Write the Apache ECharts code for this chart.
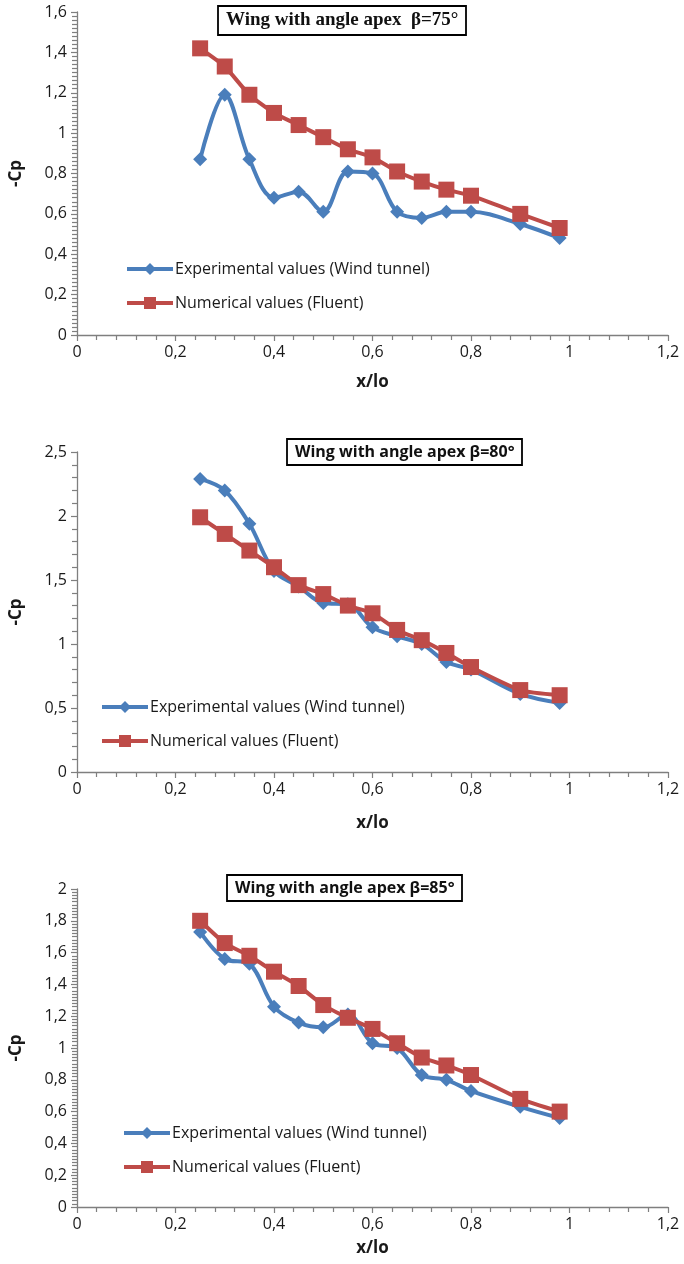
<!DOCTYPE html>
<html>
<head>
<meta charset="utf-8">
<script src="https://cdn.jsdelivr.net/npm/echarts@6/dist/echarts.min.js"></script>
<style>
html,body{margin:0;padding:0;background:#fff;}
#c{width:684px;height:1264px;}
</style>
</head>
<body>
<div id="c"></div>
<script>
// x positions (x/lo)
const xPos = [0.25, 0.3, 0.35, 0.4, 0.45, 0.5, 0.55, 0.6, 0.65, 0.7, 0.75, 0.8, 0.9, 0.98];

// Chart 1: beta = 75°
const exp75 = [0.87, 1.19, 0.87, 0.68, 0.71, 0.61, 0.81, 0.80, 0.61, 0.58, 0.61, 0.61, 0.55, 0.48];
const num75 = [1.42, 1.33, 1.19, 1.10, 1.04, 0.98, 0.92, 0.88, 0.81, 0.76, 0.72, 0.69, 0.60, 0.53];
// Chart 2: beta = 80°
const exp80 = [2.29, 2.20, 1.94, 1.57, 1.45, 1.32, 1.31, 1.13, 1.06, 1.00, 0.86, 0.80, 0.61, 0.54];
const num80 = [1.99, 1.86, 1.73, 1.60, 1.46, 1.39, 1.30, 1.24, 1.11, 1.03, 0.93, 0.82, 0.64, 0.60];
// Chart 3: beta = 85°
const exp85 = [1.73, 1.56, 1.53, 1.26, 1.16, 1.13, 1.21, 1.03, 1.00, 0.83, 0.80, 0.73, 0.63, 0.56];
const num85 = [1.80, 1.66, 1.58, 1.48, 1.39, 1.27, 1.19, 1.12, 1.03, 0.94, 0.89, 0.83, 0.68, 0.60];

const titles = ['Wing with angle apex  \u03B2=75\u00B0', 'Wing with angle apex \u03B2=80\u00B0', 'Wing with angle apex \u03B2=85\u00B0'];
const legendNames = ['Experimental values (Wind tunnel)', 'Numerical values (Fluent)'];
const xTicks = {min: 0, max: 1.2, interval: 0.2};
const yTicks = [{min: 0, max: 1.6, interval: 0.2, minor: 10},
                {min: 0, max: 2.5, interval: 0.5, minor: 5},
                {min: 0, max: 2, interval: 0.2, minor: 10}];
const xName = 'x/lo';
const yName = '-Cp';

const BLUE = '#4a7ebb', RED = '#be4b48';
const FONT = '"Open Sans", "Liberation Sans", sans-serif';
const fmt = v => String(+(+v).toFixed(2)).replace('.', ',');

const grids = [
  {left: 76, right: 16, top: 12, height: 323},
  {left: 76, right: 16, top: 452, height: 320},
  {left: 76, right: 16, top: 889, height: 318}
];
const xNameGap = [39, 43, 33];
const titlePos = [
  {left: 218, top: 6, font: '"Liberation Serif", "DejaVu Serif", serif', size: 19},
  {left: 287, top: 439, font: FONT, size: 16},
  {left: 227, top: 875, font: FONT, size: 16}
];
const legendTop = [256, 694, 1120];
const legendLeft = [120, 95, 117];

const pairs = (ys) => xPos.map((x, i) => [x, ys[i]]);
const expSets = [exp75, exp80, exp85];
const numSets = [num75, num80, num85];

const option = {
  animation: false,
  backgroundColor: '#fff',
  grid: grids,
  title: titlePos.map((t, i) => ({
    text: titles[i], left: t.left, top: t.top,
    borderColor: '#000', borderWidth: 1.8, padding: [5, 8, 5, 8],
    textStyle: {fontFamily: t.font, fontSize: t.size, fontWeight: 'bold', color: '#111'}
  })),
  legend: [0, 1, 2].map(i => ({
    orient: 'vertical', left: legendLeft[i], top: legendTop[i],
    itemWidth: 46, itemHeight: 15, itemGap: 18,
    lineStyle: {width: 4},
    data: [legendNames[0] + '#' + i, legendNames[1] + '#' + i],
    formatter: n => n.split('#')[0],
    textStyle: {fontFamily: FONT, fontSize: 16, color: '#1a1a1a', padding: [0, 0, 0, -3]}
  })),
  xAxis: [0, 1, 2].map(i => ({
    type: 'value', gridIndex: i, min: xTicks.min, max: xTicks.max, interval: xTicks.interval,
    name: xName, nameLocation: 'middle', nameGap: xNameGap[i],
    nameTextStyle: {fontFamily: FONT, fontSize: 17, fontWeight: 'bold', color: '#1a1a1a'},
    axisLine: {lineStyle: {color: '#7f7f7f', width: 1.3}},
    axisTick: {show: true, length: 6, lineStyle: {color: '#7f7f7f', width: 1.2}},
    minorTick: {show: true, splitNumber: 5, length: 5, lineStyle: {color: '#7f7f7f', width: 1.2}},
    splitLine: {show: false},
    axisLabel: {formatter: fmt, fontFamily: FONT, fontSize: 16, color: '#1a1a1a', margin: 9}
  })),
  yAxis: [0, 1, 2].map(i => ({
    type: 'value', gridIndex: i, min: yTicks[i].min, max: yTicks[i].max, interval: yTicks[i].interval,
    name: yName, nameLocation: 'middle', nameGap: 52, nameRotate: 90,
    nameTextStyle: {fontFamily: FONT, fontSize: 17, fontWeight: 'bold', color: '#1a1a1a'},
    axisLine: {show: true, lineStyle: {color: '#7f7f7f', width: 1.3}},
    axisTick: {show: true, length: 6, lineStyle: {color: '#7f7f7f', width: 1.2}},
    minorTick: {show: true, splitNumber: yTicks[i].minor, length: 5, lineStyle: {color: '#7f7f7f', width: 1.2}},
    splitLine: {show: false},
    axisLabel: {formatter: fmt, fontFamily: FONT, fontSize: 16, color: '#1a1a1a', margin: 10}
  })),
  series: [].concat(...[0, 1, 2].map(i => [
    {
      name: legendNames[0] + '#' + i, type: 'line', xAxisIndex: i, yAxisIndex: i,
      data: pairs(expSets[i]), smooth: 0.35,
      symbol: 'diamond', symbolSize: 14,
      itemStyle: {color: BLUE}, lineStyle: {color: BLUE, width: 4}, z: 2
    },
    {
      name: legendNames[1] + '#' + i, type: 'line', xAxisIndex: i, yAxisIndex: i,
      data: pairs(numSets[i]), smooth: 0.2,
      symbol: 'rect', symbolSize: 16,
      itemStyle: {color: RED}, lineStyle: {color: RED, width: 4}, z: 3
    }
  ]))
};

const chart = echarts.init(document.getElementById('c'), null, {renderer: 'canvas'});
chart.setOption(option);
</script>
</body>
</html>
